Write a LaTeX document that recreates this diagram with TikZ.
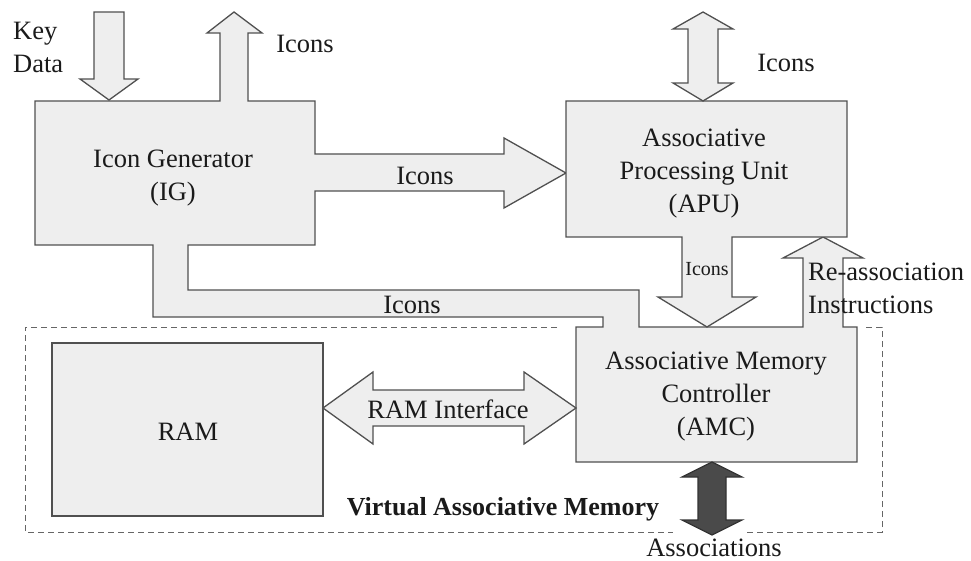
\documentclass[tikz,border=0pt]{standalone}
\usepackage{fontspec}
\setmainfont{Liberation Serif}
\definecolor{blockfill}{HTML}{EEEEEE}
\definecolor{edge}{HTML}{505050}
\definecolor{darkfill}{HTML}{4A4A4A}
\definecolor{darkedge}{HTML}{333333}
\definecolor{txt}{HTML}{1A1A1A}
\definecolor{dashc}{HTML}{666666}
\tikzset{
  blk/.style={fill=blockfill, draw=edge, line width=1.3pt, line join=miter},
  darkarrow/.style={fill=darkfill, draw=darkedge, line width=1.3pt, line join=miter},
  lbl/.style={font=\fontsize{26.5}{33}\selectfont, text=txt, align=center, inner sep=0pt},
  smalllbl/.style={font=\fontsize{20}{24}\selectfont, text=txt, inner sep=0pt},
  vamframe/.style={draw=dashc, line width=1pt, dash pattern=on 6pt off 4pt},
}
\begin{document}
\begin{tikzpicture}[x=1pt,y=-1pt]
\useasboundingbox (0,0) rectangle (971,561);

% Virtual associative memory frame (broken where the controller and the bus pass)
\draw[vamframe] (557,327) -- (25,327) -- (25,532) -- (673,532);
\draw[vamframe] (747,532) -- (882,532) -- (882,327) -- (863,327);

% Icon Generator with its outgoing buses, merged with the memory controller
% and the re-association bus
\draw[blk] (35,101) -- (220,101) -- (220,33) -- (207,33) -- (234,12) -- (262,33)
  -- (248,33) -- (248,101) -- (315,101) -- (315,154) -- (504,154) -- (504,138)
  -- (566,173) -- (504,208) -- (504,191) -- (315,191) -- (315,245) -- (188,245)
  -- (188,290) -- (639,290) -- (639,327) -- (803,327) -- (803,258) -- (783,258)
  -- (823,237) -- (863,258) -- (843,258) -- (843,327) -- (857,327) -- (857,462)
  -- (576,462) -- (576,327) -- (603,327) -- (603,317) -- (153,317) -- (153,245)
  -- (35,245) -- cycle;

% Associative Processing Unit with its icon bus down to the controller
\draw[blk] (566,101) -- (847,101) -- (847,237) -- (732,237) -- (732,297)
  -- (756,297) -- (707,327) -- (658,297) -- (682,297) -- (682,237)
  -- (566,237) -- cycle;

% Key data input
\draw[blk] (94,12) -- (124,12) -- (124,79) -- (138,79) -- (109,100)
  -- (80,79) -- (94,79) -- cycle;

% Icon exchange above the processing unit
\draw[blk] (703,12) -- (733,29) -- (718,29) -- (718,83) -- (733,83) -- (703,101)
  -- (673,83) -- (688,83) -- (688,29) -- (673,29) -- cycle;

% RAM
\draw[blk] (52,343) rectangle (323,516);

% RAM interface
\draw[blk] (323,408) -- (373,372) -- (373,390) -- (524,390) -- (524,372)
  -- (576,408) -- (524,444) -- (524,426) -- (373,426) -- (373,444) -- cycle;

% Associations bus
\draw[darkarrow] (712,462) -- (742,477) -- (726,477) -- (726,520) -- (742,520)
  -- (712,535) -- (682,520) -- (698,520) -- (698,477) -- (682,477) -- cycle;

% Labels
\node[lbl, align=left, anchor=west] (keydata) at (13,47) {Key\\Data};
\node[lbl] (icUp) at (305,44) {Icons};
\node[lbl] (icRight) at (425,176) {Icons};
\node[lbl] (icApu) at (786,63) {Icons};
\node[smalllbl] (icDown) at (707,269) {Icons};
\node[lbl] (icBent) at (412,305) {Icons};
\node[lbl, align=left, anchor=west] (reassoc) at (808,288) {Re-association\\Instructions};

\node[lbl] (ig) at (173,178) {Icon Generator\\(IG)};
\node[lbl] (apu) at (704,174) {Associative\\Processing Unit\\(APU)};
\node[lbl] (amc) at (716,397) {Associative Memory\\Controller\\(AMC)};
\node[lbl] (ram) at (188,432) {RAM};
\node[lbl] (ramif) at (448,409) {RAM Interface};
\node[lbl, font=\fontsize{26}{33}\selectfont\bfseries] (vam) at (503,509) {Virtual Associative Memory};
\node[lbl] (assoc) at (714,548) {Associations};
\end{tikzpicture}
\end{document}
